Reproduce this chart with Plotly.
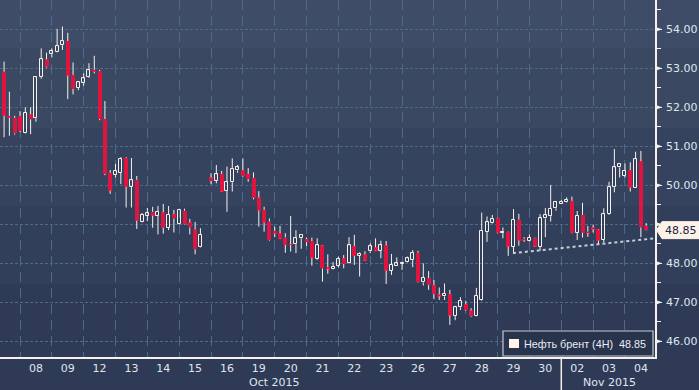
import plotly.graph_objects as go

# ---------------- data ----------------
day_labels = ["07", "08", "09", "12", "13", "14", "15", "16", "19", "20", "21",
              "22", "23", "26", "27", "28", "29", "30", "02", "03", "04"]
month_labels = ["Oct 2015", "Nov 2015"]
month_pos = [9.0, 19.5]
month_break = 18  # day index where November starts

# 4H candle slots (6 per trading day, day index = slot // 6)
candle_slot = list(range(2, 41)) + list(range(42, 125))

open_ = [52.40, 52.91, 51.78, 51.73, 51.78, 51.35, 51.82, 51.72, 52.77, 53.23,
         53.36, 53.43, 53.59, 53.70, 52.83, 52.50, 52.62, 52.77, 52.96, 52.93,
         51.70, 50.32, 50.26, 50.32, 50.70, 49.96, 50.14, 49.07, 49.22, 49.32,
         49.22, 49.31, 48.91, 49.26, 49.00, 49.35, 49.05, 48.87, 48.41,
         50.20, 50.12, 50.29, 49.86, 50.08, 50.38, 50.39, 50.29, 50.19, 49.69,
         49.37, 49.07, 48.83, 48.77, 48.66, 48.49, 48.49, 48.64, 48.62, 48.57,
         48.10, 48.46, 47.90, 47.85, 47.94, 48.13, 48.00, 48.44, 48.19, 48.23,
         48.31, 48.41, 48.32, 48.46, 47.81, 47.94, 47.99, 48.03, 48.08, 48.27,
         47.51, 47.62, 47.44, 47.20, 47.15, 47.21, 46.66, 46.87, 46.95, 46.79,
         46.64, 47.07, 48.81, 49.04, 49.17, 48.78, 48.81, 48.43, 49.12, 48.63,
         48.58, 48.66, 48.43, 49.15, 49.21, 49.41, 49.53, 49.57, 49.60, 48.78,
         49.24, 48.81, 48.92, 48.87, 48.60, 49.26, 49.95, 50.46, 50.25, 50.39,
         49.94, 50.62, 48.96]
high = [53.16, 53.17, 52.40, 51.78, 51.90, 52.00, 52.00, 52.78, 53.51, 53.40,
        53.51, 54.01, 54.07, 53.91, 53.15, 52.67, 52.87, 53.13, 53.32, 52.96,
        52.16, 50.39, 50.55, 50.72, 50.72, 50.70, 50.24, 49.29, 49.42, 49.45,
        49.47, 49.52, 49.47, 49.37, 49.38, 49.40, 49.14, 49.06, 48.90,
        50.31, 50.52, 50.37, 50.48, 50.69, 50.52, 50.69, 50.44, 50.33, 49.85,
        49.45, 49.15, 48.94, 48.96, 48.77, 49.21, 48.85, 48.75, 48.66, 48.66,
        48.64, 48.47, 48.23, 48.03, 48.17, 48.21, 48.67, 48.73, 48.28, 48.31,
        48.51, 48.64, 48.58, 48.57, 48.24, 48.15, 48.04, 48.17, 48.34, 48.32,
        48.00, 47.80, 47.57, 47.38, 47.48, 47.32, 46.91, 47.13, 47.04, 46.85,
        47.37, 49.30, 49.20, 49.24, 49.18, 48.92, 48.82, 49.39, 49.27, 48.67,
        48.74, 48.67, 49.26, 49.42, 50.01, 49.60, 49.62, 49.69, 49.71, 49.34,
        49.55, 48.96, 48.98, 48.88, 49.41, 50.09, 50.93, 50.56, 50.56, 50.59,
        50.86, 50.88, 49.03]
low = [52.30, 51.23, 51.27, 51.30, 51.36, 51.33, 51.31, 51.63, 52.73, 53.02,
       53.28, 53.41, 53.47, 52.21, 52.33, 52.44, 52.55, 52.75, 52.87, 51.67,
       50.26, 49.78, 50.20, 50.03, 49.43, 49.43, 48.88, 49.05, 49.08, 48.91,
       48.74, 48.76, 48.85, 48.79, 48.99, 48.99, 48.74, 48.23, 48.40,
       50.03, 50.05, 49.83, 49.32, 49.84, 50.32, 50.22, 50.09, 49.64, 48.94,
       48.81, 48.58, 48.67, 48.62, 48.27, 48.30, 48.26, 48.37, 48.44, 47.94,
       48.08, 47.53, 47.73, 47.84, 47.89, 47.87, 47.99, 47.96, 47.66, 48.06,
       48.26, 48.31, 48.13, 47.47, 47.70, 47.93, 47.83, 48.02, 47.90, 47.50,
       47.43, 47.32, 47.08, 47.06, 47.06, 46.42, 46.54, 46.80, 46.78, 46.62,
       46.63, 47.04, 48.55, 49.02, 48.77, 48.64, 48.19, 48.24, 48.45, 48.55,
       48.56, 48.42, 48.32, 48.67, 49.07, 49.35, 49.52, 49.56, 48.77, 48.60,
       48.66, 48.68, 48.79, 48.49, 48.54, 49.24, 49.82, 50.20, 50.20, 49.84,
       49.93, 48.67, 48.84]
close = [52.91, 51.78, 51.73, 51.33, 51.39, 51.85, 51.69, 52.77, 53.23, 53.04,
         53.44, 53.58, 53.70, 52.81, 52.47, 52.64, 52.74, 52.95, 52.91, 51.70,
         50.29, 49.86, 50.36, 50.67, 49.96, 50.13, 49.09, 49.24, 49.28, 49.22,
         49.32, 48.91, 49.24, 49.15, 49.37, 49.00, 48.92, 48.36, 48.73,
         50.11, 50.28, 49.84, 50.08, 50.42, 50.46, 50.24, 50.16, 49.68, 49.35,
         49.04, 48.60, 48.76, 48.63, 48.47, 48.47, 48.64, 48.73, 48.54, 48.14,
         48.46, 47.87, 47.85, 47.90, 48.11, 47.98, 48.46, 48.19, 48.24, 48.07,
         48.44, 48.32, 48.46, 47.81, 47.96, 48.00, 48.02, 48.13, 48.26, 47.51,
         47.62, 47.44, 47.21, 47.15, 47.22, 46.66, 46.87, 47.03, 46.80, 46.64,
         47.16, 48.84, 49.05, 49.13, 48.78, 48.81, 48.43, 49.12, 48.58, 48.59,
         48.66, 48.43, 49.15, 49.23, 49.40, 49.56, 49.58, 49.63, 48.78, 49.21,
         48.78, 48.77, 48.87, 48.58, 49.26, 49.95, 50.46, 50.54, 50.37, 49.94,
         50.67, 48.92, 48.85]

last_price = 48.85
series_name = "Нефть брент (4H)"
trend_x = [16.48, 20.94]
trend_y = [48.26, 48.64]
y_ticks = [46, 47, 48, 49, 50, 51, 52, 53, 54]

# ---------------- styling constants ----------------
W, H = 699, 390
ML, MR, MT, MB = 0, 44, 0, 33
PW, PH = W - ML - MR, H - MT - MB
X_RANGE = [0.372, 20.943]
Y_RANGE = [45.597, 54.751]
px_per_x = PW / (X_RANGE[1] - X_RANGE[0])
px_per_y = PH / (Y_RANGE[1] - Y_RANGE[0])

RED = "#e0153f"
WHITE = "#f6f1ec"
GRID = "#4d6a8b"
TXT = "#dfe6ee"
FONT = "DejaVu Sans"
LFONT = "Liberation Sans"

xs = [s / 6 for s in candle_slot]

# wicks
wx, wy = [], []
for x, o, h, l, c in zip(xs, open_, high, low, close):
    top, bot = max(o, c), min(o, c)
    if h > top:
        wx += [x, x, None]
        wy += [h, top, None]
    if l < bot:
        wx += [x, x, None]
        wy += [bot, l, None]

up = [i for i in range(len(xs)) if close[i] >= open_[i]]
dn = [i for i in range(len(xs)) if close[i] < open_[i]]

fig = go.Figure()
fig.add_trace(go.Scatter(x=wx, y=wy, mode="lines",
                         line=dict(color=WHITE, width=1), hoverinfo="skip",
                         showlegend=False))
fig.add_trace(go.Bar(x=[xs[i] for i in dn],
                     y=[max(open_[i] - close[i], 0.03) for i in dn],
                     base=[close[i] for i in dn],
                     width=4 / px_per_x,
                     marker=dict(color=RED, line=dict(width=0)),
                     showlegend=False, hoverinfo="skip"))
fig.add_trace(go.Bar(x=[xs[i] for i in up],
                     y=[max(close[i] - open_[i], 0.02) for i in up],
                     base=[open_[i] for i in up],
                     width=3 / px_per_x,
                     marker=dict(color="rgba(0,0,0,0)", line=dict(color=WHITE, width=1)),
                     showlegend=False, hoverinfo="skip"))
fig.add_trace(go.Scatter(x=trend_x, y=trend_y, mode="lines",
                         line=dict(color="#c9ced6", width=2, dash="dot"),
                         hoverinfo="skip", showlegend=False))

shapes = []
# background bands (stepped gradient)
band_edges = [0, 48, 128, 206, 284, H]
band_cols = ["#3e4c67", "#3a4862", "#36435e", "#323f5a", "#2e3a56"]
for (a, b), col in zip(zip(band_edges[:-1], band_edges[1:]), band_cols):
    shapes.append(dict(type="rect", xref="paper", yref="paper",
                       x0=-0.01, x1=W / PW + 0.01,
                       y0=(PH - b) / PH, y1=(PH - a) / PH,
                       fillcolor=col, line=dict(width=0), layer="below"))
# y tick triangles
for t in y_ticks:
    hy = 2.6 / px_per_y
    x0 = 1.0
    x1 = 1.0 + 7 / PW
    shapes.append(dict(type="path", xref="paper", yref="y",
                       path=f"M {x0},{t - hy} L {x1},{t} L {x0},{t + hy} Z",
                       fillcolor=WHITE, line=dict(width=0), layer="above"))
# last price tag
hh = 8.5 / px_per_y
p0, p1, p2 = 1.0 + 1.5 / PW, 1.0 + 7 / PW, (W + 2) / PW
shapes.append(dict(type="path", xref="paper", yref="y",
                   path=(f"M {p0},{last_price} L {p1},{last_price + hh} L {p2},{last_price + hh} "
                         f"L {p2},{last_price - hh} L {p1},{last_price - hh} Z"),
                   fillcolor="#fdf2e8", line=dict(color="#fdf2e8", width=1), layer="above"))
# month separator
shapes.append(dict(type="line", xref="x", yref="paper", x0=month_break, x1=month_break,
                   y0=0, y1=-MB / PH, line=dict(color=WHITE, width=1.5), layer="above"))
# legend box
lx0, lx1, ly0, ly1 = 503, 653, 331, 356
shapes.append(dict(type="rect", xref="paper", yref="paper",
                   x0=lx0 / PW, x1=lx1 / PW, y0=(PH - ly1) / PH, y1=(PH - ly0) / PH,
                   fillcolor="#28334c", line=dict(color="#c3cad3", width=1.2), layer="above"))
shapes.append(dict(type="rect", xref="paper", yref="paper",
                   x0=509 / PW, x1=519 / PW, y0=(PH - 348) / PH, y1=(PH - 339) / PH,
                   fillcolor="#fff3ea", line=dict(width=0), layer="above"))

annotations = [
    dict(x=(W + 662) / 2 / PW, y=last_price, xref="paper", yref="y", text=f"{last_price:.2f}",
         showarrow=False, xanchor="center", yanchor="middle",
         font=dict(family=FONT, size=11, color="#1b2440")),
    dict(x=648 / PW, y=(PH - 344) / PH, xref="paper", yref="paper",
         text=series_name + "\u00a0\u00a0" + f"{last_price:.2f}",
         showarrow=False, xanchor="right", yanchor="middle",
         font=dict(family=LFONT, size=10.8, color="#e8edf3")),
]
for lab, pos in zip(month_labels, month_pos):
    annotations.append(dict(x=pos, y=-(382.5 - PH) / PH, xref="x", yref="paper", text=lab,
                            showarrow=False, xanchor="center", yanchor="middle",
                            font=dict(family=FONT, size=11, color=TXT)))

# tick labels (the one hidden under the price tag is left blank)
y_ticktext = ["" if abs(t - last_price) < 0.3 else f"{t:.2f}" for t in y_ticks]

fig.update_layout(
    width=W, height=H,
    margin=dict(l=ML, r=MR, t=MT, b=MB, pad=0, autoexpand=False),
    paper_bgcolor="#2e3a56", plot_bgcolor="rgba(0,0,0,0)",
    barmode="overlay", bargap=0, showlegend=False,
    shapes=shapes, annotations=annotations,
    font=dict(family=FONT, size=11, color=TXT),
    xaxis=dict(range=X_RANGE, tickmode="array",
               tickvals=[d + 0.5 for d in range(len(day_labels))], ticktext=day_labels,
               ticks="", showgrid=False, zeroline=False,
               showline=True, linecolor=WHITE, linewidth=1.5,
               tickfont=dict(family=FONT, size=11, color=TXT),
               minor=dict(tickmode="array", tickvals=list(range(1, len(day_labels))),
                          showgrid=True, gridcolor=GRID, gridwidth=1, griddash="10px,6px",
                          ticks="")),
    yaxis=dict(range=Y_RANGE, side="right", tickmode="array", tickvals=y_ticks,
               ticktext=y_ticktext, ticks="outside", ticklen=5, tickcolor=WHITE, tickwidth=1,
               ticklabelstandoff=2,
               showgrid=True, gridcolor=GRID, gridwidth=1, griddash="3px,2px",
               zeroline=False, showline=True, linecolor=WHITE, linewidth=1.5,
               tickfont=dict(family=FONT, size=11, color=TXT),
               minor=dict(dtick=0.5, tick0=0, ticks="outside", ticklen=4,
                          tickcolor=WHITE, showgrid=False)),
)

fig.write_html("out.html",
               config={"displayModeBar": False},
               post_script="document.body.style.margin='0';document.body.style.padding='0';"
                           "document.body.style.overflow='hidden';")
